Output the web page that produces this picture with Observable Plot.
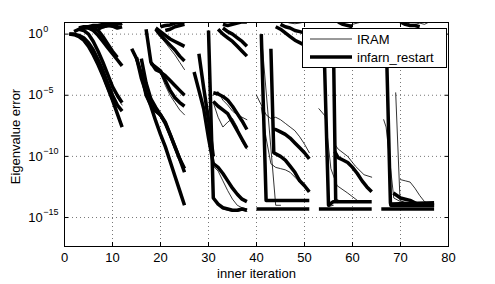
<!DOCTYPE html>
<html><head><meta charset="utf-8">
<script src="https://cdn.jsdelivr.net/npm/d3@7"></script>
<script src="https://cdn.jsdelivr.net/npm/@observablehq/plot@0.6"></script>
<style>body{margin:0;background:#fff} svg{display:block}</style>
</head><body>
<script>
// Each curve: list of [inner iteration, log10(eigenvalue error)]
const infarn1 = [
  [[1,0],[2,-0.05],[3,-0.2],[4,-0.5],[5,-1.0],[6,-1.7],[7,-2.5],[8,-3.4],[9,-4.4],[10,-5.4],[11,-6.5],[12,-7.6]],
  [[1,0],[2,0],[3,-0.1],[4,-0.3],[5,-0.7],[6,-1.3],[7,-2.1],[8,-3.0],[9,-4.0],[10,-5.0],[11,-5.8],[12,-6.3]],
  [[3,0.4],[4,0.3],[5,0],[6,-0.6],[7,-1.4],[8,-2.3],[9,-3.3],[10,-4.3],[11,-5.0],[12,-5.6]],
  [[5,0.5],[6,0.3],[7,-0.1],[8,-0.6],[9,-1.1],[10,-1.6],[11,-2.1],[12,-2.6]],
  [[6,0.5],[7,0.3],[8,-0.2],[9,-0.8],[10,-1.4],[11,-1.9]],
  [[2,0.2],[3,0.4],[4,0.5],[5,0.5],[6,0.55],[7,0.6],[8,0.6],[9,0.7],[10,0.75],[11,0.8],[12,0.9]],
  [[3,0.5],[4,0.6],[5,0.6],[6,0.7],[7,0.7],[8,0.8],[9,0.85],[10,0.9],[11,1.0],[12,1.1]],
  [[7,0.4],[8,0.6],[9,0.7],[10,0.65],[11,0.5],[12,0.6]]
];
const iram1 = [
  [[1,0],[2,-0.05],[3,-0.25],[4,-0.6],[5,-1.1],[6,-1.8],[7,-2.6],[8,-3.6],[9,-4.6],[10,-5.6],[11,-6.5],[12,-7.4]],
  [[3,0.4],[4,0.3],[5,-0.1],[6,-0.7],[7,-1.5],[8,-2.4],[9,-3.4],[10,-4.4],[11,-5.2],[12,-5.8]],
  [[5,0.6],[6,0.4],[7,0.6],[8,0.8],[9,0.7],[10,0.9],[11,1.0],[12,0.8]]
];
const infarn2 = [
  [[14,-1.2],[15,-2.0],[16,-3.2],[17,-5.0],[18,-5.8],[19,-6.3],[20,-6.6],[21,-7.2],[22,-8.2],[23,-9.2],[24,-10.2],[25,-11.0]],
  [[15,-1.9],[16,-3.6],[17,-4.8],[18,-5.9],[19,-7.1],[20,-8.2],[21,-9.2],[22,-10.4],[23,-11.6],[24,-12.8],[25,-14.0]],
  [[16,-2.0],[17,-4.0],[18,-5.3],[19,-6.0],[20,-6.6],[21,-7.3],[22,-8.2],[23,-9.2],[24,-10.2],[25,-11.3]],
  [[17,0.4],[18,-2.3],[19,-2.9],[20,-3.1],[21,-3.4],[22,-3.8],[23,-4.2],[24,-4.6],[25,-5.0]],
  [[18,-2.4],[19,-2.7],[20,-3.0],[21,-3.8],[22,-4.6],[23,-5.2],[24,-5.6],[25,-5.9]],
  [[19,0.4],[20,-0.1],[21,-0.5],[22,-0.9],[23,-1.3],[24,-1.8],[25,-2.2]],
  [[19,0.5],[20,0.2],[21,-0.1],[22,-0.4],[23,-0.6],[24,-0.8],[25,-1.0]],
  [[20,0.6],[21,0.7],[22,0.75],[23,0.9],[24,0.95],[25,1.0]],
  [[21,0.3],[22,0.4],[23,0.6],[24,0.7],[25,0.8]]
];
const iram2 = [
  [[19,-2.8],[20,-3.2],[21,-4.2],[22,-5.0],[23,-5.6],[24,-6.2],[25,-6.6]],
  [[14,-1.3],[15,-2.2],[16,-3.4],[17,-5.1],[18,-5.9],[19,-6.4],[20,-6.8],[21,-7.4],[22,-8.4],[23,-9.4],[24,-10.3],[25,-11.1]],
  [[19,0.3],[20,-0.2],[21,-0.7],[22,-1.2],[23,-1.7],[24,-2.3],[25,-2.9]]
];
const infarn3 = [
  [[30,0.3],[31,-13.4],[32,-13.9],[33,-14.2],[34,-14.3],[35,-14.4],[36,-14.4],[37,-14.3],[38,-14.4]],
  [[31,-10.6],[32,-10.9],[33,-11.4],[34,-12.0],[35,-12.6],[36,-13.1],[37,-13.5],[38,-13.7]],
  [[27,-3.1],[28,-4.6],[29,-6.1],[30,-8.5],[31,-10.6]],
  [[28,-1.6],[29,-4.4],[30,-7.0],[31,-10.0]],
  [[31,-4.8],[32,-4.9],[33,-5.1],[34,-5.4],[35,-5.9],[36,-6.5],[37,-7.1],[38,-7.8]],
  [[31,-5.5],[32,-5.9],[33,-6.2],[34,-6.5],[35,-7.2],[36,-7.9],[37,-8.6],[38,-9.3]],
  [[32,0.4],[33,0.0],[34,-0.3],[35,-0.6],[36,-1.0],[37,-1.4],[38,-1.8]],
  [[33,0.5],[34,0.2],[35,0],[36,-0.3],[37,-0.6],[38,-1.0]],
  [[33,0.8],[34,0.7],[35,0.8],[36,0.9],[37,1.0],[38,1.0]]
];
const iram3 = [
  [[31,-5.0],[32,-4.7],[33,-5.4],[34,-5.8],[35,-6.3],[36,-6.6],[37,-6.8],[38,-7.0]],
  [[31,-5.6],[32,-6.8],[33,-7.6],[34,-7.2],[35,-6.9],[36,-7.6],[37,-8.8],[38,-9.4]],
  [[31,-10.8],[32,-11.2],[33,-12.0],[34,-12.8],[35,-13.5],[36,-14.0],[37,-14.2],[38,-14.3]],
  [[30,0.2],[31,-13.5],[32,-14.0],[33,-14.3],[34,-14.4],[35,-14.5],[36,-14.5],[37,-14.4],[38,-14.5]]
];
const infarn4 = [
  [[41,0],[42,-13.6],[51,-13.6]],
  [[43,-1.2],[43.6,-9.7],[45,-10.0],[46,-10.3],[47,-10.8],[48,-11.3],[49,-12.0],[50,-12.4],[51,-12.9]],
  [[43.5,-7.8],[44,-7.8],[45,-8.0],[46,-8.2],[47,-8.5],[48,-8.9],[49,-9.3],[50,-9.7],[51,-10.2]],
  [[40,-14.3],[51,-14.3]],
  [[44,0.6],[45,0.4],[46,0.1],[47,-0.2],[48,-0.5],[49,-0.7],[50,-0.9]],
  [[45,0.8],[46,0.6],[47,0.5],[48,0.3],[49,0.2],[50,0.1]]
];
const iram4 = [
  [[40,-5.0],[41,-5.8],[42,-6.6],[43,-6.9],[44,-6.8],[45,-7.0],[46,-7.3],[47,-7.6],[48,-7.9],[49,-8.4],[50,-9.0],[51,-9.7]],
  [[41,-6.0],[42,-8.5],[43,-10.6],[44,-10.9],[45,-11.0],[46,-11.1],[47,-11.3],[48,-11.7],[49,-12.1],[50,-12.5],[51,-12.9]],
  [[41,0],[44,-14.0],[45,-14.0]],
  [[46,1.0],[47,0.9],[48,0.85],[49,0.9],[50,1.0]]
];
const infarn5 = [
  [[54,0],[55,-14.0],[56,-13.7],[64,-13.7]],
  [[56,0],[56.5,-13.6],[57,-13.7]],
  [[56.3,-9.6],[57,-10.1],[58,-10.3],[59,-10.5],[60,-10.9],[61,-11.4],[62,-12.0],[63,-12.5],[64,-12.9]],
  [[53,-14.3],[64,-14.3]],
  [[57,1.0],[58,0.8],[59,0.7],[60,0.6]]
];
const iram5 = [
  [[53,-6.1],[54.3,-6.7],[55.5,-11.0],[56.8,-12.4],[59,-13.0],[61,-13.6],[62,-13.7]],
  [[56.3,-9.0],[57,-9.4],[59,-10.0],[60.6,-10.8],[62.4,-11.5],[64,-11.7]],
  [[54,0],[55,-14.1],[56,-14.0]],
  [[58,0.9],[59,0.7],[60,0.8],[61,0.9],[62,1.0]]
];
const infarn6 = [
  [[67,0],[67.9,-13.8],[68,-14.0],[77,-14.0]],
  [[68.5,-13.0],[70,-13.4],[71,-13.5],[72,-13.6],[73,-13.8],[74,-14.0],[77,-14.0]],
  [[66,-14.3],[77,-14.3]],
  [[68,-13.9],[77,-13.8]],
  [[70,1.0],[71,0.8],[72,0.7],[73,0.7],[74,0.6]]
];
const iram6 = [
  [[66.5,-7.0],[67,-7.6],[68.6,-13.4],[70,-13.7],[72,-13.8]],
  [[69,-4.8],[69.9,-13.6],[71,-13.8]],
  [[70,-11.9],[71,-12.0],[72,-12.1],[73,-12.6],[74,-13.2],[75,-13.7],[76,-13.9]],
  [[71,1.0],[72,0.8],[73,0.8],[74,0.9],[75,0.8],[76,1.0]]
];
const xTicks = [0,10,20,30,40,50,60,70,80];
const yTickExps = [-15,-10,-5,0];
const legendLabels = ["IRAM","infarn_restart"];

function toRows(method, cycles) {
  const out = [];
  cycles.forEach((curves, ci) => curves.forEach((curve, k) =>
    curve.forEach(([x, e]) => out.push({method, id: `${method}-${ci}-${k}`, x, err: Math.pow(10, e)}))));
  return out;
}
const thickRows = toRows("infarn_restart", [infarn1, infarn2, infarn3, infarn4, infarn5, infarn6]);
const thinRows = toRows("IRAM", [iram1, iram2, iram3, iram4, iram5, iram6]);
const yTicks = yTickExps.map(e => Math.pow(10, e));

const font = "'Liberation Sans', Arial, Helvetica, sans-serif";
const gridStyle = {stroke: "#777", strokeOpacity: 1, strokeWidth: 1, strokeDasharray: "1,3"};

const plot = Plot.plot({
  width: 495, height: 284,
  marginLeft: 64, marginRight: 47, marginTop: 22, marginBottom: 38,
  style: {fontFamily: font, fontSize: "13px", background: "white", color: "black"},
  x: {domain: [0, 80]},
  y: {type: "log", domain: [Math.pow(10, -17.37), Math.pow(10, 0.95)]},
  marks: [
    Plot.gridX(xTicks.slice(1, -1), gridStyle),
    Plot.gridY(yTicks, gridStyle),
    Plot.line(thickRows, {x: "x", y: "err", z: "id", stroke: "black", strokeWidth: 3.5, clip: true, strokeLinejoin: "round", strokeLinecap: "butt"}),
    Plot.line(thinRows, {x: "x", y: "err", z: "id", stroke: "black", strokeWidth: 0.8, clip: true, strokeLinejoin: "round"}),
    Plot.frame({stroke: "black", strokeWidth: 1}),
    Plot.axisX(xTicks, {anchor: "bottom", tickSize: -4, tickPadding: 10, tickFormat: d => String(d), label: null, fontSize: 13}),
    Plot.axisX(xTicks, {anchor: "top", tickSize: -4, tickFormat: () => "", label: null}),
    Plot.axisY(yTicks, {anchor: "left", tickSize: -4, tickPadding: 40.3, tickFormat: d => "10^" + Math.round(Math.log10(d)), label: null, fontSize: 13}),
    Plot.axisY(yTicks, {anchor: "right", tickSize: -4, tickFormat: () => "", label: null}),
    Plot.text(["inner iteration"], {frameAnchor: "bottom", textAnchor: "middle", lineAnchor: "middle", dy: 27, fontSize: 13, fill: "black"}),
    Plot.text(["Eigenvalue error"], {frameAnchor: "left", textAnchor: "middle", lineAnchor: "middle", rotate: -90, dx: -49, dy: 2, fontSize: 13, fill: "black"})
  ]
});

// MATLAB-style y tick labels: base "10" at a fixed place, exponent as a superscript to its right
const NS = "http://www.w3.org/2000/svg";
plot.querySelectorAll('[aria-label="y-axis tick label"] text').forEach(t => {
  const s = t.textContent;
  if (!s.includes("^")) return;
  const exp = s.split("^")[1].replace("-", "\u2212");
  t.textContent = "";
  t.setAttribute("text-anchor", "start");
  const a = document.createElementNS(NS, "tspan"); a.textContent = "10"; t.appendChild(a);
  const b = document.createElementNS(NS, "tspan");
  b.setAttribute("dy", "-0.75em"); b.setAttribute("dx", "0.5"); b.setAttribute("font-size", "9"); b.textContent = exp; t.appendChild(b);
});

// legend box
const svg = d3.select(plot);
const lg = svg.append("g").attr("font-family", font).attr("font-size", 13).attr("text-anchor", "start");
lg.append("rect").attr("x", 302.5).attr("y", 28.5).attr("width", 144).attr("height", 39)
  .attr("fill", "white").attr("stroke", "black").attr("stroke-width", 1);
[[39, 0.8], [57, 3.5]].forEach(([y, w], i) => {
  lg.append("line").attr("x1", 310).attr("x2", 352).attr("y1", y).attr("y2", y)
    .attr("stroke", "black").attr("stroke-width", w);
  lg.append("text").attr("x", 357).attr("y", y).attr("dy", "0.35em").attr("text-anchor", "start")
    .attr("fill", "black").text(legendLabels[i]);
});

document.body.appendChild(plot);
</script>
</body></html>
